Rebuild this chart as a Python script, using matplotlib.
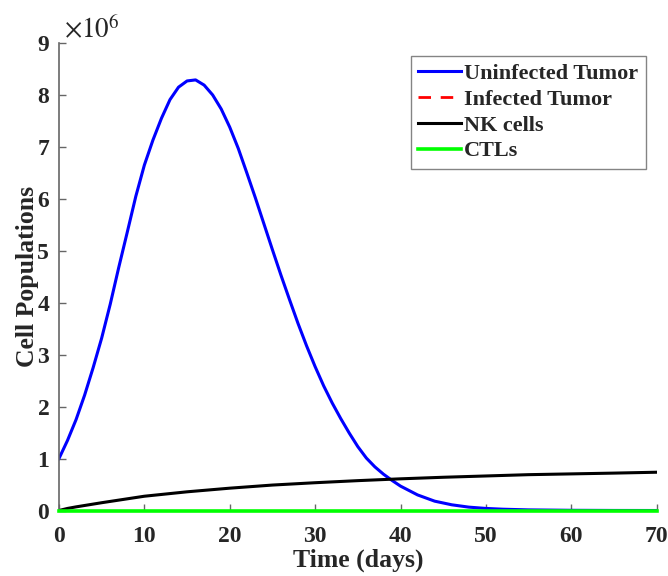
import numpy as np
import matplotlib
matplotlib.use("Agg")
import matplotlib.pyplot as plt

# Data (values in units of 1e6 cells)
t_uninf = [0, 1, 2, 3, 4, 5, 6, 7, 8, 9, 10, 11, 12, 13, 14, 15, 16, 17, 18, 19, 20,
           21, 22, 23, 24, 25, 26, 27, 28, 29, 30, 31, 32, 33, 34, 35, 36, 37, 38, 39,
           40, 42, 44, 46, 48, 50, 52, 55, 60, 65, 70]
uninfected = [1.00, 1.35, 1.75, 2.22, 2.75, 3.32, 3.97, 4.68, 5.36, 6.05, 6.65, 7.13,
              7.55, 7.91, 8.15, 8.27, 8.29, 8.19, 8.00, 7.73, 7.38, 6.97, 6.50, 6.02,
              5.52, 5.02, 4.53, 4.06, 3.60, 3.17, 2.77, 2.40, 2.07, 1.77, 1.49, 1.23,
              1.01, 0.84, 0.70, 0.58, 0.47, 0.30, 0.18, 0.11, 0.065, 0.04, 0.025,
              0.012, 0.004, 0.001, 0.0]

t_nk = [0, 1, 2, 5, 10, 15, 20, 25, 30, 35, 40, 45, 50, 55, 60, 65, 70]
nk = [0.0, 0.04, 0.07, 0.15, 0.275, 0.36, 0.43, 0.49, 0.535, 0.575, 0.61, 0.64,
      0.665, 0.69, 0.705, 0.72, 0.737]

t_zero = [0, 70]
infected = [0, 0]
ctls = [0, 0]

xticks = [0, 10, 20, 30, 40, 50, 60, 70]
yticks = [0, 1, 2, 3, 4, 5, 6, 7, 8, 9]

plt.rcParams['font.family'] = ['Liberation Serif', 'DejaVu Serif']
plt.rcParams['mathtext.fontset'] = 'stix'

fig = plt.figure(figsize=(6.68, 5.76), dpi=100)
ax = fig.add_axes([0.0883, 0.1137, 0.983 - 0.0883, 0.9253 - 0.1137])

ax.plot(t_uninf, uninfected, color='#0000ff', lw=2.2, label='Uninfected Tumor')
ax.plot(t_zero, infected, color='#ff0000', lw=2.0, ls=(0, (4.5, 3.5)), label='Infected Tumor')
ax.plot(t_nk, nk, color='black', lw=2.2, label='NK cells')
ax.plot(t_zero, ctls, color='#00ff00', lw=2.6, label='CTLs', clip_on=False, zorder=5)

ax.set_xlim(0, 70)
ax.set_ylim(0, 9)
ax.set_xticks(xticks)
ax.set_yticks(yticks)
ax.set_xticklabels([str(v) for v in xticks])
ax.set_yticklabels([str(v) for v in yticks])

for s in ['top', 'right']:
    ax.spines[s].set_visible(False)
for s in ['left', 'bottom']:
    ax.spines[s].set_color('#666666')
    ax.spines[s].set_linewidth(1.2)

ax.tick_params(direction='in', length=5, width=1, color='#666666',
               labelsize=17, labelcolor='#262626')
ax.tick_params(axis='x', pad=11)
ax.tick_params(axis='y', pad=7)
for lab in ax.get_xticklabels() + ax.get_yticklabels():
    lab.set_fontweight('bold')

ax.set_xlabel('Time (days)', fontsize=18.5, fontweight='bold', color='#262626', labelpad=1)
ax.set_ylabel('Cell Populations', fontsize=18.5, fontweight='bold', color='#262626', labelpad=-1)

ax.text(0.008, 0.997, r'$\times10^{6}$', transform=ax.transAxes, fontsize=19.5,
        color='#262626', ha='left', va='bottom')

leg = ax.legend(loc='upper left', bbox_to_anchor=(0.589, 0.972),
                prop={'weight': 'bold', 'size': 16}, handlelength=1.94, handletextpad=0.14,
                borderpad=0.32, labelspacing=0.24, frameon=True, fancybox=False,
                borderaxespad=0)
leg.get_frame().set_edgecolor('#666666')
leg.get_frame().set_linewidth(1.0)
for txt in leg.get_texts():
    txt.set_color('#262626')

fig.savefig('out.png', dpi=100, facecolor='white')
